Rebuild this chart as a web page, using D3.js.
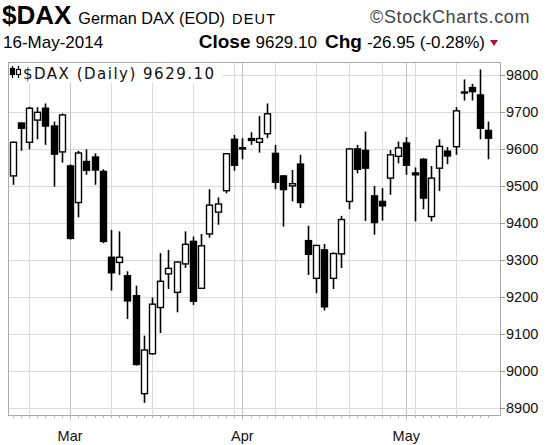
<!DOCTYPE html>
<html><head><meta charset="utf-8">
<script src="https://cdn.jsdelivr.net/npm/d3@7/dist/d3.min.js"></script>
<style>body{margin:0;background:#fff}svg{display:block}</style>
</head><body>
<svg id="c" width="547" height="445"></svg>
<script>
const dates = ["2014-02-20","2014-02-21","2014-02-24","2014-02-25","2014-02-26","2014-02-27","2014-02-28",
"2014-03-03","2014-03-04","2014-03-05","2014-03-06","2014-03-07","2014-03-10","2014-03-11","2014-03-12","2014-03-13","2014-03-14",
"2014-03-17","2014-03-18","2014-03-19","2014-03-20","2014-03-21","2014-03-24","2014-03-25","2014-03-26","2014-03-27","2014-03-28",
"2014-03-31","2014-04-01","2014-04-02","2014-04-03","2014-04-04","2014-04-07","2014-04-08","2014-04-09","2014-04-10","2014-04-11",
"2014-04-14","2014-04-15","2014-04-16","2014-04-17","2014-04-22","2014-04-23","2014-04-24","2014-04-25","2014-04-28","2014-04-29","2014-04-30",
"2014-05-02","2014-05-05","2014-05-06","2014-05-07","2014-05-08","2014-05-09","2014-05-12","2014-05-13","2014-05-14","2014-05-15","2014-05-16"];
const opens  = [9527,9670,9618,9678,9710,9662,9592,9554,9455,9566,9578,9539,9307,9293,9257,9203,8938,9046,9171,9262,9212,9289,9350,9223,9370,9429,9487,9626,9600,9628,9618,9641,9588,9527,9500,9559,9352,9250,9327,9250,9316,9458,9600,9596,9473,9458,9521,9580,9616,9535,9572,9417,9548,9594,9606,9752,9766,9746,9650];
const highs  = [9620,9672,9714,9713,9723,9674,9696,9558,9595,9599,9588,9545,9381,9377,9269,9230,9095,9198,9318,9327,9296,9377,9363,9370,9491,9469,9589,9638,9629,9645,9689,9723,9611,9529,9543,9584,9392,9340,9343,9320,9419,9602,9611,9647,9500,9494,9597,9620,9632,9550,9575,9554,9626,9605,9713,9788,9776,9815,9674];
const lows   = [9503,9595,9599,9626,9611,9498,9563,9355,9415,9530,9503,9345,9217,9259,9140,9014,8913,9044,9102,9221,9158,9278,9178,9221,9360,9395,9480,9541,9572,9611,9590,9629,9491,9390,9458,9440,9259,9210,9163,9221,9278,9437,9534,9405,9368,9406,9476,9561,9530,9404,9437,9404,9486,9559,9584,9731,9731,9626,9572];
const closes = [9618,9656,9710,9699,9662,9586,9692,9358,9589,9542,9543,9350,9265,9307,9189,9017,9056,9180,9242,9277,9294,9342,9188,9338,9448,9451,9587,9556,9603,9623,9628,9695,9510,9490,9506,9455,9315,9339,9173,9317,9409,9600,9545,9548,9401,9446,9584,9603,9556,9530,9467,9521,9607,9581,9703,9754,9755,9656,9629.10];
const yTicks = [8900,9000,9100,9200,9300,9400,9500,9600,9700,9800];
const monthLabels = ["Mar","Apr","May"];
const monthStarts = ["2014-03-03","2014-04-01","2014-05-02"];
const weekStarts = ["2014-02-24","2014-03-03","2014-03-10","2014-03-17","2014-03-24","2014-03-31","2014-04-07","2014-04-14","2014-04-22","2014-04-28","2014-05-05","2014-05-12"];

const svg = d3.select("#c");
const L = 8, R = 500, T = 62, B = 415;
const x = d3.scalePoint().domain(dates).range([12.7, 488.3]);
const y = d3.scaleLinear().domain([8900, 9800]).range([407.7, 75]);

svg.append("rect").attr("width",547).attr("height",445).attr("fill","#fff");

// gridlines
const g = svg.append("g");
g.selectAll(".hg").data(yTicks).join("line")
  .attr("x1",L).attr("x2",R).attr("y1",d=>Math.round(y(d))+0.5).attr("y2",d=>Math.round(y(d))+0.5)
  .attr("stroke","#dcdcdc").attr("stroke-width",1);
g.selectAll(".wg").data(weekStarts).join("line")
  .attr("x1",d=>Math.round(x(d))+0.5).attr("x2",d=>Math.round(x(d))+0.5).attr("y1",T).attr("y2",B)
  .attr("stroke","#dcdcdc").attr("stroke-width",1);
g.selectAll(".mg").data(monthStarts).join("line")
  .attr("x1",d=>Math.round(x(d))+0.5).attr("x2",d=>Math.round(x(d))+0.5).attr("y1",T).attr("y2",B+5)
  .attr("stroke","#c4c4c4").attr("stroke-width",1);

// frame
svg.append("rect").attr("x",L+0.5).attr("y",T+0.5).attr("width",R-L).attr("height",B-T)
  .attr("fill","none").attr("stroke","#aaaaaa").attr("stroke-width",1);

// x small ticks
svg.append("g").selectAll("line").data(dates).join("line")
  .attr("x1",d=>Math.round(x(d))+0.5).attr("x2",d=>Math.round(x(d))+0.5).attr("y1",B).attr("y2",B+3)
  .attr("stroke","#b4b4b4");
svg.append("g").selectAll("text").data(monthStarts).join("text")
  .attr("x",d=>x(d)).attr("y",441).attr("text-anchor","middle")
  .attr("font-family","Liberation Sans, Arial, sans-serif").attr("font-size",14.5).attr("fill","#111")
  .text((d,i)=>monthLabels[i]);

// y ticks
const ya = svg.append("g");
ya.selectAll("line").data(yTicks).join("line")
  .attr("x1",R).attr("x2",R+5).attr("y1",d=>Math.round(y(d))+0.5).attr("y2",d=>Math.round(y(d))+0.5)
  .attr("stroke","#999");
ya.selectAll("text").data(yTicks).join("text")
  .attr("x",506).attr("y",d=>y(d)+5).attr("font-family","Liberation Sans, Arial, sans-serif")
  .attr("font-size",14.5).attr("fill","#111").text(d=>d);

// candles
const cg = svg.append("g");
dates.forEach((d,i)=>{
  const cx = Math.round(x(d)) + 0.5;
  const o = opens[i], c = closes[i], up = c >= o;
  cg.append("line").attr("x1",cx).attr("x2",cx).attr("y1",y(highs[i])).attr("y2",y(lows[i]))
    .attr("stroke","#000").attr("stroke-width",1.6);
  const top = y(Math.max(o,c)), bot = y(Math.min(o,c));
  const h = Math.max(1, bot-top);
  cg.append("rect").attr("x",cx-3).attr("y",top).attr("width",6).attr("height",h)
    .attr("fill", up && h>2 ? "#fff" : "#000").attr("stroke","#000").attr("stroke-width",1.4);
});

// legend box
svg.append("rect").attr("x",L+1).attr("y",T+1).attr("width",213).attr("height",20).attr("fill","#fff");
const ic = svg.append("g").attr("stroke","#000").attr("stroke-width",1.2);
ic.append("line").attr("x1",12.5).attr("x2",12.5).attr("y1",66).attr("y2",78);
ic.append("rect").attr("x",10.5).attr("y",68.5).attr("width",4).attr("height",6).attr("fill","#000");
ic.append("line").attr("x1",18.5).attr("x2",18.5).attr("y1",66).attr("y2",78);
ic.append("rect").attr("x",16.5).attr("y",69.5).attr("width",4).attr("height",5).attr("fill","#fff");
svg.append("text").attr("x",23).attr("y",79).attr("font-family","DejaVu Sans, Verdana, sans-serif")
  .attr("font-size",15).attr("letter-spacing",1.5).attr("fill","#111").text("$DAX (Daily) 9629.10");

// header
const F = "Liberation Sans, Arial, sans-serif";
const h1 = svg.append("text").attr("x",2).attr("y",24).attr("font-family",F).attr("fill","#000");
h1.append("tspan").attr("font-size",26).attr("font-weight","bold").text("$DAX");
h1.append("tspan").attr("font-size",16.2).attr("dx",7).text("German DAX (EOD)");
h1.append("tspan").attr("font-size",14.5).attr("dx",7).attr("letter-spacing",1.2).text("DEUT");
svg.append("text").attr("x",530).attr("y",23).attr("text-anchor","end").attr("font-family",F)
  .attr("font-size",18).attr("letter-spacing",0.6).attr("fill","#444").text("©StockCharts.com");
svg.append("text").attr("x",3).attr("y",48).attr("font-family",F).attr("font-size",17).attr("fill","#000").text("16-May-2014");
const h2 = svg.append("text").attr("x",485).attr("y",48).attr("text-anchor","end").attr("font-family",F).attr("fill","#000");
h2.append("tspan").attr("font-size",19).attr("font-weight","bold").text("Close");
h2.append("tspan").attr("font-size",17).attr("dx",5).text("9629.10");
h2.append("tspan").attr("font-size",19).attr("font-weight","bold").attr("dx",8).text("Chg");
h2.append("tspan").attr("font-size",17).attr("dx",5).text("-26.95 (-0.28%)");
svg.append("path").attr("d","M490,40 L498,40 L494,46 Z").attr("fill","#b0103a");
</script>
</body></html>
